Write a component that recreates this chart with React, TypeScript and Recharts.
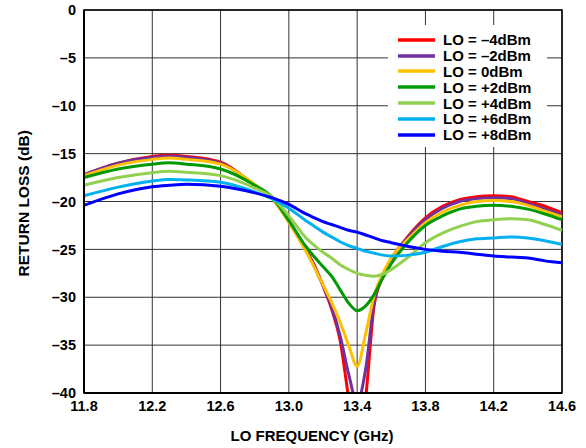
import React from 'react'
import { CartesianGrid, Line, LineChart, ReferenceArea, XAxis, YAxis } from 'recharts'

const freq = [11.8, 12.0, 12.2, 12.3, 12.4, 12.6, 12.8, 12.9, 13.0, 13.1, 13.15, 13.2, 13.25, 13.3, 13.35, 13.4, 13.45, 13.5, 13.55, 13.6, 13.7, 13.8, 13.9, 14.0, 14.1, 14.2, 14.3, 14.4, 14.5, 14.6]

const loM4 = [-17.2, -16.0, -15.3, -15.15, -15.3, -15.9, -18.3, -19.6, -22.0, -25.0, -26.7, -28.8, -31.2, -34.5, -40.5, -46.0, -40.5, -30.8, -27.9, -26.1, -23.6, -21.7, -20.5, -19.8, -19.5, -19.4, -19.5, -20.0, -20.5, -21.2]
const loM2 = [-17.2, -16.0, -15.4, -15.25, -15.4, -16.0, -18.3, -19.6, -22.1, -25.1, -26.8, -28.8, -31.0, -34.0, -38.0, -41.0, -37.5, -30.5, -27.7, -26.0, -23.7, -21.9, -20.7, -20.0, -19.7, -19.6, -19.7, -20.2, -20.8, -21.4]
const lo0 = [-17.3, -16.2, -15.6, -15.45, -15.6, -16.1, -18.2, -19.6, -22.2, -25.2, -26.9, -28.7, -30.5, -32.6, -35.0, -37.2, -33.8, -29.8, -27.5, -25.9, -23.9, -22.2, -21.1, -20.4, -20.0, -19.9, -20.0, -20.4, -21.0, -21.6]
const loP2 = [-17.5, -16.6, -16.1, -15.95, -16.1, -16.6, -18.3, -19.5, -22.0, -24.7, -25.8, -26.8, -27.8, -29.2, -30.6, -31.4, -30.9, -29.7, -28.0, -26.5, -24.2, -22.5, -21.5, -20.8, -20.5, -20.4, -20.5, -20.8, -21.3, -21.9]
const loP4 = [-18.3, -17.5, -17.0, -16.85, -16.95, -17.3, -18.6, -19.5, -21.5, -23.8, -24.6, -25.3, -25.9, -26.6, -27.1, -27.5, -27.7, -27.8, -27.6, -27.1, -25.8, -24.3, -23.3, -22.6, -22.1, -21.9, -21.8, -21.9, -22.4, -23.0]
const loP6 = [-19.4, -18.5, -17.85, -17.7, -17.75, -18.0, -19.0, -19.7, -20.7, -22.0, -22.6, -23.2, -23.7, -24.2, -24.6, -24.9, -25.2, -25.4, -25.6, -25.7, -25.6, -25.3, -24.7, -24.2, -23.9, -23.8, -23.7, -23.8, -24.1, -24.5]
const loP8 = [-20.4, -19.2, -18.45, -18.3, -18.2, -18.4, -19.1, -19.6, -20.3, -21.3, -21.7, -22.1, -22.4, -22.7, -23.0, -23.2, -23.5, -23.8, -24.1, -24.3, -24.7, -25.0, -25.2, -25.3, -25.5, -25.7, -25.8, -25.9, -26.2, -26.4]

const xTicks = [11.8, 12.2, 12.6, 13.0, 13.4, 13.8, 14.2, 14.6]
const yTicks = [0, -5, -10, -15, -20, -25, -30, -35, -40]

const series = [
  { key: 'm4', name: 'LO = \u20134dBm', color: '#ff0000', values: loM4 },
  { key: 'm2', name: 'LO = \u20132dBm', color: '#7030a0', values: loM2 },
  { key: 'z0', name: 'LO = 0dBm', color: '#ffc000', values: lo0 },
  { key: 'p2', name: 'LO = +2dBm', color: '#009a00', values: loP2 },
  { key: 'p4', name: 'LO = +4dBm', color: '#92d050', values: loP4 },
  { key: 'p6', name: 'LO = +6dBm', color: '#00b0f0', values: loP6 },
  { key: 'p8', name: 'LO = +8dBm', color: '#0000ff', values: loP8 },
]

const data = freq.map((f, i) => {
  const row: Record<string, number> = { f }
  series.forEach((s) => {
    row[s.key] = s.values[i]
  })
  return row
})

const font = '"Liberation Sans", Arial, sans-serif'

function LegendBox() {
  return (
    <div
      style={{
        position: 'absolute',
        left: 388,
        top: 25,
        width: 159,
        height: 122,
        boxSizing: 'border-box',
        background: '#fff',
        padding: '7px 0 0 10px',
        fontFamily: font,
        fontWeight: 'bold',
        fontSize: 15,
        color: '#000',
      }}
    >
      {series.map((s) => (
        <div key={s.key} style={{ display: 'flex', alignItems: 'center', height: 15.8, whiteSpace: 'nowrap' }}>
          <svg width={37} height={6} style={{ marginRight: 8 }}>
            <line x1={0} y1={3} x2={37} y2={3} stroke={s.color} strokeWidth={3.5} />
          </svg>
          <span>{s.name}</span>
        </div>
      ))}
    </div>
  )
}

const fmtY = (v: number) => (v < 0 ? '\u2013' + Math.abs(v) : String(v))

export default function App() {
  return (
    <div style={{ position: 'absolute', left: 0, top: 0, width: 586, height: 448 }}>
      <LineChart width={586} height={448} data={data} margin={{ top: 10, right: 24, bottom: 22, left: 14 }}>
        <CartesianGrid stroke="#333" strokeWidth={1} />
        <XAxis
          dataKey="f"
          type="number"
          domain={[11.8, 14.6]}
          ticks={xTicks}
          tickFormatter={(v: number) => v.toFixed(1)}
          tickLine={false}
          axisLine={{ stroke: '#000', strokeWidth: 2 }}
          height={33}
          tick={{ fill: '#000', fontSize: 14.5, fontWeight: 'bold', fontFamily: font }}
          label={{ value: 'LO FREQUENCY (GHz)', position: 'insideBottom', offset: -15, dx: -11, fill: '#000', fontSize: 15, fontWeight: 'bold', fontFamily: font }}
        />
        <YAxis
          type="number"
          domain={[-40, 0]}
          ticks={yTicks}
          allowDataOverflow
          tickFormatter={fmtY}
          tickLine={false}
          axisLine={{ stroke: '#000', strokeWidth: 2 }}
          width={70}
          tick={{ fill: '#000', fontSize: 14.5, fontWeight: 'bold', fontFamily: font }}
          label={{ value: 'RETURN LOSS (dB)', angle: -90, position: 'insideLeft', offset: 9, dy: 75, fill: '#000', fontSize: 15.5, fontWeight: 'bold', fontFamily: font }}
        />
        <ReferenceArea x1={11.8} x2={14.6} y1={-40} y2={0} fill="none" stroke="#000" strokeWidth={1.5} />
        {series.map((s) => (
          <Line
            key={s.key}
            dataKey={s.key}
            name={s.name}
            type="monotone"
            stroke={s.color}
            strokeWidth={3}
            dot={false}
            activeDot={false}
            isAnimationActive={false}
          />
        ))}
      </LineChart>
      <LegendBox />
    </div>
  )
}
